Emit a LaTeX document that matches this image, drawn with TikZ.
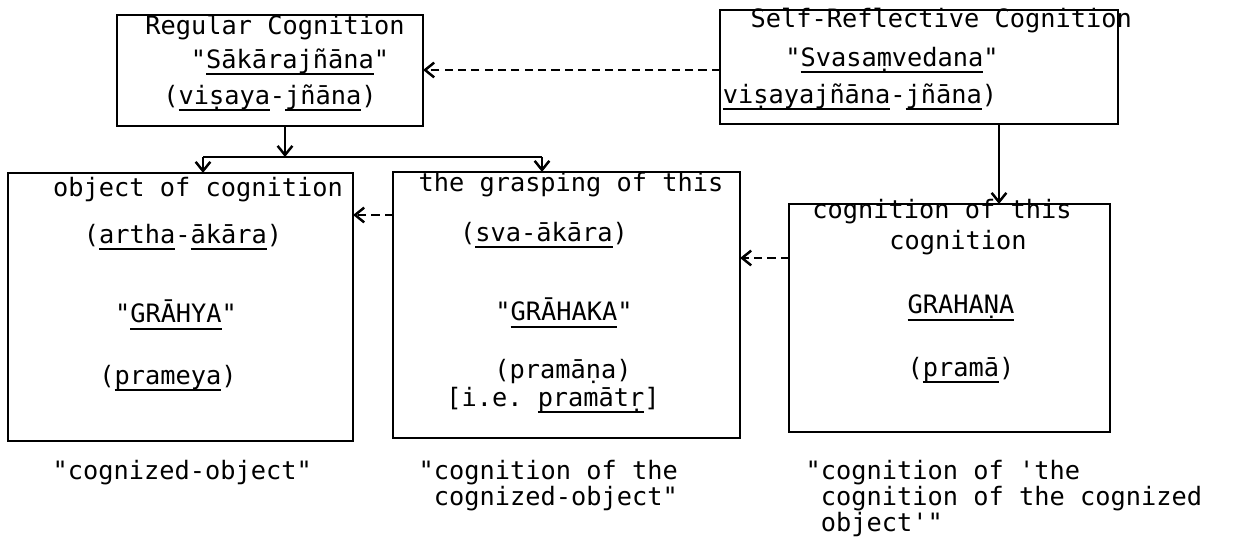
\documentclass[tikz,border=0pt]{standalone}
\usepackage{fontspec}
\newfontfamily\typewr{DejaVu Sans Mono}
\usetikzlibrary{arrows.meta}

% underline set a little below the descenders, as on a typewriter
\newcommand\undl[1]{\setbox0=\hbox{#1}\rlap{\rule[-0.27em]{\wd0}{0.62pt}}\box0}

\begin{document}
\frenchspacing
\begin{tikzpicture}[x=0.01cm, y=-0.01cm,
    box/.style={draw, line width=0.7pt, inner sep=0pt, outer sep=0pt},
    lbl/.style={font=\typewr\fontsize{7.2}{7.4}\selectfont, inner sep=0pt},
    caption/.style={lbl, align=left, anchor=north west},
    link/.style={line width=0.7pt, -{Straight Barb[length=2.6pt,width=4.2pt]}},
    dashlink/.style={link, dash pattern=on 2.3pt off 1.5pt}]
\useasboundingbox (0,0) rectangle (1238,552);

% the five boxes
\node[box, minimum width=3.06cm, minimum height=1.11cm] (reg) at (270,70.5) {};
\node[box, minimum width=3.98cm, minimum height=1.14cm] (self) at (919,67) {};
\node[box, minimum width=3.45cm, minimum height=2.68cm] (obj) at (180.5,307) {};
\node[box, minimum width=3.47cm, minimum height=2.66cm] (grasp) at (566.5,305) {};
\node[box, minimum width=3.21cm, minimum height=2.28cm] (cog) at (949.5,318) {};

% regular cognition
\node[lbl] (regname) at (275,28) {Regular Cognition};
\node[lbl] (regskt) at (290,62) {"\undl{Sākārajñāna}"};
\node[lbl] (regalt) at (270,98) {(\undl{viṣaya}-\undl{jñāna})};

% self-reflective cognition
\node[lbl, anchor=west] (selfname) at (750,21) {Self-Reflective Cognition};
\node[lbl] (selfskt) at (892,60) {"\undl{Svasaṃvedana}"};
\node[lbl] (selfalt) at (860,97) {\undl{viṣayajñāna}-\undl{jñāna})};

% object of cognition
\node[lbl] (objA) at (198,190) {object of cognition};
\node[lbl] (objB) at (183,237) {(\undl{artha}-\undl{ākāra})};
\node[lbl] (objC) at (176,315) {"\undl{GRĀHYA}"};
\node[lbl] (objD) at (168,378) {(\undl{prameya})};

% the grasping
\node[lbl] (graspA) at (571,185) {the grasping of this};
\node[lbl] (graspB) at (544,235) {(\undl{sva-ākāra})};
\node[lbl] (graspC) at (564,313) {"\undl{GRĀHAKA}"};
\node[lbl] (graspD) at (563,372) {(pramāṇa)};
\node[lbl] (graspE) at (553,400) {[i.e. \undl{pramātṛ}]};

% cognition of this cognition
\node[lbl] (cogA) at (942,212) {cognition of this};
\node[lbl] (cogB) at (958,243) {cognition};
\node[lbl] (cogC) at (961,308) {\undl{GRAHAṆA}};
\node[lbl] (cogD) at (961,370) {(\undl{pramā})};

% captions under the boxes
\node[caption] (capobj) at (52,460) {"cognized-object"};
\node[caption] (capgrasp) at (418,460) {"cognition of the\\\hphantom{"}cognized-object"};
\node[caption] (capcog) at (805,460) {"cognition of 'the\\\hphantom{"}cognition of the cognized\\\hphantom{"}object'"};

% connectors
\coordinate (fork) at (285,157);
\coordinate (forkl) at (203,157);
\coordinate (forkr) at (542,157);
\coordinate (drop) at (999,0);
\coordinate (topdash) at (0,70);
\coordinate (lowdash) at (0,258);
\coordinate (middash) at (0,215);

\draw[dashlink] (self.west |- topdash) -- (reg.east |- topdash);
\draw[link] (fork |- reg.south) -- (fork);
\draw[line width=0.7pt] (forkl) -- (forkr);
\draw[link] (forkl) -- (forkl |- obj.north);
\draw[link] (forkr) -- (forkr |- grasp.north);
\draw[link] (drop |- self.south) -- (drop |- cog.north);
\draw[dashlink] (cog.west |- lowdash) -- (grasp.east |- lowdash);
\draw[dashlink] (grasp.west |- middash) -- (obj.east |- middash);
\end{tikzpicture}
\end{document}
